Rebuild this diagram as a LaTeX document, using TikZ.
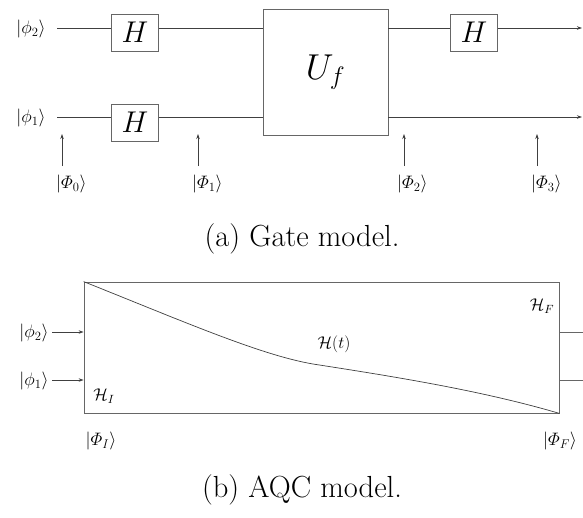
\RequirePackage{fix-cm}
\documentclass[tikz,border=0pt]{standalone}
\usepackage{amsmath}
\usetikzlibrary{arrows.meta}
\begin{document}
\begin{tikzpicture}[x=1pt,y=-1pt,
  wire/.style={draw=black!75,line width=0.7pt},
  boxline/.style={draw=black!60,line width=0.8pt},
  arr/.style={black!75,line width=0.7pt,-{Stealth[length=5pt,width=3.5pt]}},
  gatebox/.style={boxline,rectangle,inner sep=0pt,minimum width=47pt,minimum height=37pt,
    font=\fontsize{30}{36}\selectfont},
  lbl/.style={inner sep=0pt,font=\fontsize{18}{21}\selectfont},
  captext/.style={inner sep=0pt,font=\fontsize{30.5}{36}\selectfont}]
\useasboundingbox (0,0) rectangle (583,517);

% ---------- (a) Gate model ----------
\node[lbl] (l2) at (31,29) {$|\phi_2\rangle$};
\node[lbl] (l1) at (31,118) {$|\phi_1\rangle$};
\coordinate (w2s) at (57,28);
\coordinate (w1s) at (57,117);
\coordinate (w2e) at (582,28);
\coordinate (w1e) at (582,117);

\node[gatebox] (H1) at (135,32.5) {$H$};
\node[gatebox] (H2) at (135,122.5) {$H$};
\node[boxline,rectangle,inner sep=0pt,minimum width=125pt,minimum height=126pt,
  font=\fontsize{36}{42}\selectfont] (Uf) at (325.5,72) {$U_f$};
\node[gatebox] (H3) at (474,32.5) {$H$};

\draw[wire] (w2s) -- (w2s -| H1.west);
\draw[wire] (w2s -| H1.east) -- (w2s -| Uf.west);
\draw[wire] (w2s -| Uf.east) -- (w2s -| H3.west);
\draw[arr] (w2s -| H3.east) -- (w2e);
\draw[wire] (w1s) -- (w1s -| H2.west);
\draw[wire] (w1s -| H2.east) -- (w1s -| Uf.west);
\draw[arr] (w1s -| Uf.east) -- (w1e);

\node[lbl,anchor=west] (p0) at (56,184) {$|\varPhi_0\rangle$};
\node[lbl,anchor=west] (p1) at (192,184) {$|\varPhi_1\rangle$};
\node[lbl,anchor=west] (p2) at (397,184) {$|\varPhi_2\rangle$};
\node[lbl,anchor=west] (p3) at (531,184) {$|\varPhi_3\rangle$};
\coordinate (a0) at (62,134); \coordinate (b0) at (62,166);
\coordinate (a1) at (198,134); \coordinate (b1) at (198,166);
\coordinate (a2) at (404,134); \coordinate (b2) at (404,166);
\coordinate (a3) at (537,134); \coordinate (b3) at (537,166);
\draw[arr] (b0) -- (a0);
\draw[arr] (b1) -- (a1);
\draw[arr] (b2) -- (a2);
\draw[arr] (b3) -- (a3);

\node[captext] (capa) at (302,239) {(a) Gate model.};

% ---------- (b) AQC model ----------
\node[boxline,rectangle,inner sep=0pt,minimum width=475pt,minimum height=131pt] (aqc) at (321.5,347.5) {};
\node[lbl] (i2) at (34,333) {$|\phi_2\rangle$};
\node[lbl] (i1) at (34,381) {$|\phi_1\rangle$};
\coordinate (c2) at (52,332);
\coordinate (c1) at (52,380);
\coordinate (d2) at (583,332);
\coordinate (d1) at (583,380);
\draw[arr] (c2) -- (c2 -| aqc.west);
\draw[arr] (c1) -- (c1 -| aqc.west);
\draw[boxline] (c2 -| aqc.east) -- (d2);
\draw[boxline] (c1 -| aqc.east) -- (d1);

\coordinate (mid) at (313,364);
\draw[wire] (aqc.north west) .. controls (180,320) and (260,355) .. (mid)
  .. controls (390,376) and (480,390) .. (aqc.south east);

\node[lbl,font=\fontsize{17}{20}\selectfont] (hI) at (104,396) {$\mathcal{H}_I$};
\node[lbl,font=\fontsize{17}{20}\selectfont] (ht) at (334,344) {$\mathcal{H}(t)$};
\node[lbl,font=\fontsize{17}{20}\selectfont] (hF) at (542,306) {$\mathcal{H}_F$};
\node[lbl] (pI) at (101,441) {$|\varPhi_I\rangle$};
\node[lbl] (pF) at (560,441) {$|\varPhi_F\rangle$};

\node[captext] (capb) at (302,490) {(b) AQC model.};
\end{tikzpicture}
\end{document}
